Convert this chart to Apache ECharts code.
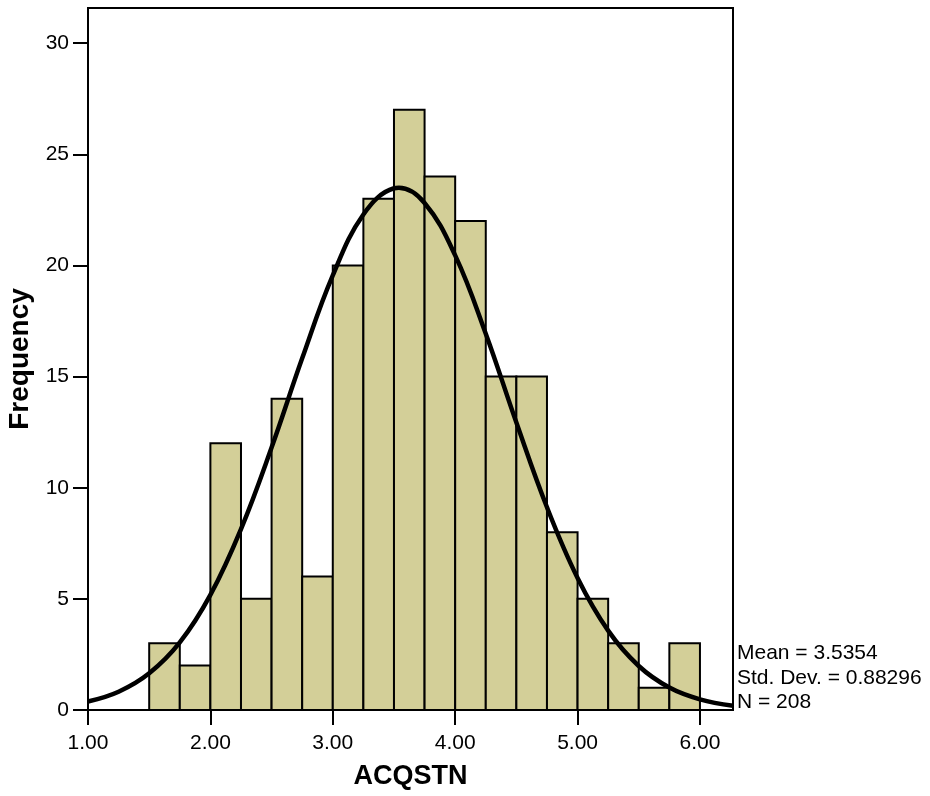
<!DOCTYPE html>
<html>
<head>
<meta charset="utf-8">
<script src="https://cdn.jsdelivr.net/npm/echarts@6/dist/echarts.min.js"></script>
<style>html,body{margin:0;padding:0;background:#fff}#main{width:930px;height:796px}</style>
</head>
<body>
<div id="main"></div>
<script>
// Histogram bins (lower edges) and counts
const binStarts = [1.50,1.75,2.00,2.25,2.50,2.75,3.00,3.25,3.50,3.75,4.00,4.25,4.50,4.75,5.00,5.25,5.50,5.75];
const binWidth = 0.25;
const counts = [3,2,12,5,14,6,20,23,27,24,22,15,15,8,5,3,1,3];
// Normal curve
const curveX = [1.00,1.25,1.50,1.75,2.00,2.25,2.50,2.75,3.00,3.25,3.50,3.54,3.75,4.00,4.25,4.50,4.75,5.00,5.25,5.50,5.75,6.00,6.27];
const curveY = [0.38,0.82,1.65,3.04,5.18,8.14,11.81,15.82,19.55,22.29,23.47,23.49,22.81,20.45,16.93,12.93,9.12,5.94,3.57,1.98,1.01,0.48,0.19];
const xTicks = [1,2,3,4,5,6];
const yTicks = [0,5,10,15,20,25,30];
const statsLines = ['Mean = 3.5354','Std. Dev. = 0.88296','N = 208'];

const barData = binStarts.map((s,i)=>[s, s+binWidth, counts[i]]);
const curveData = curveX.map((x,i)=>[x, curveY[i]]);

const chart = echarts.init(document.getElementById('main'), null, {renderer:'canvas'});
const font = 'Liberation Sans, Arial, sans-serif';
chart.setOption({
  animation:false,
  backgroundColor:'#fff',
  grid:{left:88,top:8,right:197,bottom:86,outerBoundsMode:'none',containLabel:false,
    show:true,borderColor:'#000',borderWidth:2,backgroundColor:'transparent'},
  xAxis:{
    type:'value',min:1,max:6.27,
    name:'ACQSTN',nameLocation:'middle',nameGap:53,
    nameTextStyle:{fontFamily:font,fontSize:27,fontWeight:'bold',color:'#000'},
    axisLine:{show:true,onZero:false,lineStyle:{color:'#000',width:2}},
    axisTick:{show:true,length:15,lineStyle:{color:'#000',width:2},customValues:xTicks},
    axisLabel:{fontFamily:font,fontSize:21,color:'#000',margin:23,customValues:xTicks,formatter:v=>v.toFixed(2)},
    splitLine:{show:false}
  },
  yAxis:{
    type:'value',min:0,max:31.58,
    name:'Frequency',nameLocation:'middle',nameGap:49,nameRotate:90,
    nameTextStyle:{fontFamily:font,fontSize:28,fontWeight:'bold',color:'#000'},
    axisLine:{show:true,lineStyle:{color:'#000',width:2}},
    axisTick:{show:true,length:15,lineStyle:{color:'#000',width:2},customValues:yTicks},
    axisLabel:{fontFamily:font,fontSize:21,color:'#000',margin:19,customValues:yTicks},
    splitLine:{show:false}
  },
  series:[
    {
      type:'custom',
      data:barData,
      clip:true,
      renderItem:function(params, api){
        const p0 = api.coord([api.value(0), api.value(2)]);
        const p1 = api.coord([api.value(1), 0]);
        return {type:'rect',shape:{x:p0[0],y:p0[1],width:p1[0]-p0[0],height:p1[1]-p0[1]},
          style:{fill:'#d3cf98',stroke:'#000',lineWidth:2}};
      },
      z:2
    },
    {
      type:'line',data:curveData,smooth:0.4,showSymbol:false,symbol:'none',clip:true,
      lineStyle:{color:'#000',width:4.5},z:3
    }
  ],
  graphic: statsLines.map((t,i)=>({
    type:'text',left:737,top:643+i*24.5,
    style:{text:t,fontFamily:font,fontSize:21,fill:'#000'}
  }))
});
</script>
</body>
</html>
